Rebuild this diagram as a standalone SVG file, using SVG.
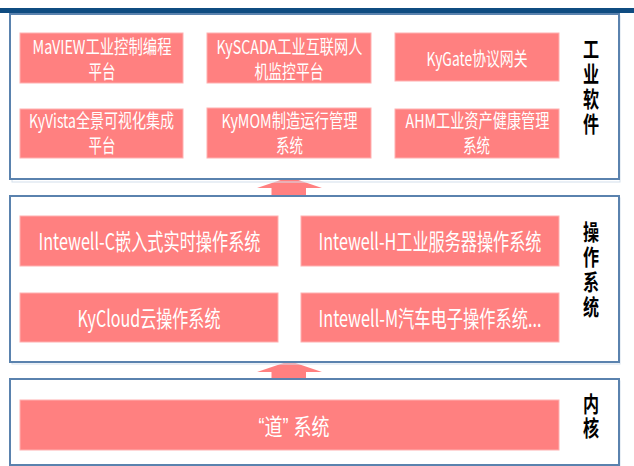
<svg xmlns="http://www.w3.org/2000/svg" width="634" height="466" viewBox="0 0 634 466">
<style>
.panel{fill:#ffffff;stroke:#5A82AE;stroke-width:2}
.shade{fill:none;stroke:#D3DFEC;stroke-width:1}
.box{fill:#FF8080;stroke:#FFB0B0;stroke-width:1}
.t1{font-family:"Noto Sans CJK SC","Noto Sans",sans-serif;font-size:19px;fill:#ffffff}
.t2{font-family:"Noto Sans CJK SC","Noto Sans",sans-serif;font-size:23px;fill:#ffffff}
.t3{font-family:"Liberation Sans","Noto Sans CJK SC",sans-serif;font-size:23px;fill:#ffffff}
.lab{font-family:"Noto Sans CJK SC",sans-serif;font-size:22px;font-weight:700;fill:#000000;writing-mode:vertical-rl;letter-spacing:3px}
.arrow{fill:#FF8080}
</style>
<rect width="634" height="466" fill="#ffffff"/>
<rect x="0" y="8" width="634" height="5" fill="#0F4C81"/>

<g id="connectors">
<polygon class="arrow" points="257,188 289.5,177 322,188 306,188 306,196 271.5,196 271.5,188"/>
<polygon class="arrow" points="257,372 289.5,361 322,372 306,372 306,380 271.5,380 271.5,372"/>
</g>

<g id="panel-software">
<rect class="shade" x="12" y="16" width="608" height="166"/>
<rect class="panel" x="10" y="14" width="609" height="165"/>
<text class="lab" transform="translate(591,38) scale(0.73,1)" x="0" y="0">工业软件</text>
</g>
<g id="node-maview">
<rect class="box" x="20" y="33" width="163" height="50"/>
<text class="t1" transform="translate(32.5,54) scale(0.75,1)" textLength="185.3" lengthAdjust="spacingAndGlyphs">MaVIEW工业控制编程</text>
<text class="t1" transform="translate(88.5,79) scale(0.75,1)" textLength="36" lengthAdjust="spacingAndGlyphs">平台</text>
</g>
<g id="node-kyscada">
<rect class="box" x="207" y="33" width="164" height="50"/>
<text class="t1" transform="translate(216.5,54) scale(0.75,1)" textLength="194.7" lengthAdjust="spacingAndGlyphs">KySCADA工业互联网人</text>
<text class="t1" transform="translate(254.5,79) scale(0.75,1)" textLength="92" lengthAdjust="spacingAndGlyphs">机监控平台</text>
</g>
<g id="node-kygate">
<rect class="box" x="395" y="33" width="164" height="48"/>
<text class="t1" transform="translate(426.5,66) scale(0.75,1)" textLength="134.7" lengthAdjust="spacingAndGlyphs">KyGate协议网关</text>
</g>
<g id="node-kyvista">
<rect class="box" x="20" y="109" width="163" height="49"/>
<text class="t1" transform="translate(29,128) scale(0.75,1)" textLength="193.3" lengthAdjust="spacingAndGlyphs">KyVista全景可视化集成</text>
<text class="t1" transform="translate(88.5,153) scale(0.75,1)" textLength="36" lengthAdjust="spacingAndGlyphs">平台</text>
</g>
<g id="node-kymom">
<rect class="box" x="207" y="108" width="164" height="50"/>
<text class="t1" transform="translate(221.5,128) scale(0.75,1)" textLength="181.3" lengthAdjust="spacingAndGlyphs">KyMOM制造运行管理</text>
<text class="t1" transform="translate(276,153) scale(0.75,1)" textLength="36" lengthAdjust="spacingAndGlyphs">系统</text>
</g>
<g id="node-ahm">
<rect class="box" x="395" y="109" width="164" height="49"/>
<text class="t1" transform="translate(405.5,128) scale(0.75,1)" textLength="192" lengthAdjust="spacingAndGlyphs">AHM工业资产健康管理</text>
<text class="t1" transform="translate(463,153) scale(0.75,1)" textLength="36" lengthAdjust="spacingAndGlyphs">系统</text>
</g>

<g id="panel-os">
<rect class="shade" x="12" y="198" width="608" height="166"/>
<rect class="panel" x="10" y="196" width="609" height="166"/>
<text class="lab" transform="translate(591,221) scale(0.73,1)" x="0" y="0">操作系统</text>
</g>
<g id="node-intewell-c">
<rect class="box" x="20" y="216" width="258" height="50"/>
<text class="t2" transform="translate(38.5,250) scale(0.72,1)" textLength="308.3" lengthAdjust="spacingAndGlyphs">Intewell-C嵌入式实时操作系统</text>
</g>
<g id="node-intewell-h">
<rect class="box" x="301" y="216" width="258" height="50"/>
<text class="t2" transform="translate(318.5,250) scale(0.72,1)" textLength="309.7" lengthAdjust="spacingAndGlyphs">Intewell-H工业服务器操作系统</text>
</g>
<g id="node-kycloud">
<rect class="box" x="20" y="293" width="258" height="49"/>
<text class="t2" transform="translate(77.5,327) scale(0.72,1)" textLength="198.6" lengthAdjust="spacingAndGlyphs">KyCloud云操作系统</text>
</g>
<g id="node-intewell-m">
<rect class="box" x="301" y="293" width="258" height="49"/>
<text class="t2" transform="translate(318.5,327) scale(0.72,1)" textLength="309.7" lengthAdjust="spacingAndGlyphs">Intewell-M汽车电子操作系统...</text>
</g>

<g id="panel-kernel">
<rect class="shade" x="12" y="381" width="608" height="86"/>
<rect class="panel" x="10" y="379" width="609" height="86"/>
<text class="lab" transform="translate(591,393) scale(0.73,1)" x="0" y="0" style="letter-spacing:2px">内核</text>
</g>
<g id="node-dao">
<rect class="box" x="20" y="400" width="539" height="50"/>
<text class="t3" transform="translate(258.5,435) scale(0.75,1)" textLength="94.7" lengthAdjust="spacingAndGlyphs">“道” 系统</text>
</g>
</svg>
